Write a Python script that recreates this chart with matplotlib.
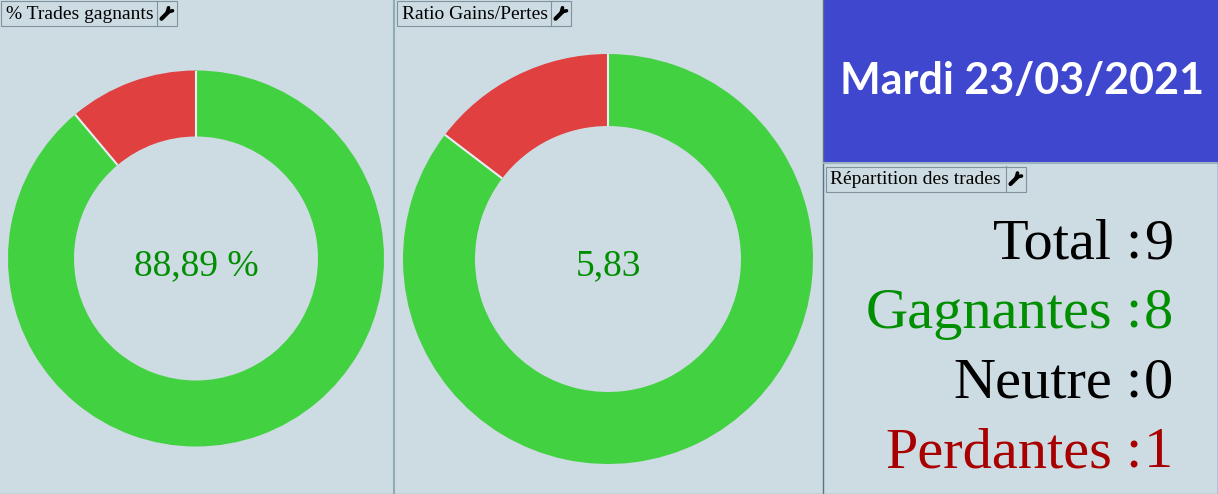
import matplotlib
matplotlib.use('Agg')
import matplotlib.pyplot as plt
import numpy as np
from matplotlib.patches import Rectangle

# data
win_values = [8, 1]
ratio_values = [5.83, 1]
pie_colors = ['#41D141', '#E04040']
win_text = '88,89 %'
ratio_text = '5,83'
date_text = 'Mardi 23/03/2021'
panel_titles = ['% Trades gagnants', 'Ratio Gains/Pertes', 'Répartition des trades']
row_labels = ['Total', 'Gagnantes', 'Neutre', 'Perdantes']
row_values = [9, 8, 0, 1]
row_colors = ['#000000', '#008F00', '#000000', '#A80000']

W, H = 1218, 494
BG = '#CDDBE2'
EDGE = '#7F939E'
SERIF = 'Liberation Serif'

fig = plt.figure(figsize=(W / 100, H / 100), dpi=100, facecolor=BG)

# background axes in pixel coordinates, y going down
bg = fig.add_axes([0, 0, 1, 1])
bg.set_xlim(0, W)
bg.set_ylim(H, 0)
bg.axis('off')

# panel separators and date banner
bg.add_patch(Rectangle((823.5, 0), 394.5, 162, color='#4047CF', lw=0))
bg.plot([394, 394], [0, H], color='#8FACB9', lw=1.5)
bg.plot([823, 823], [0, H], color='#5A7486', lw=1)
bg.plot([824, W], [163, 163], color='#9DB4C0', lw=1.5)
bg.plot([0, W], [493.5, 493.5], color='#9DB4C0', lw=1)
bg.plot([1217.5, 1217.5], [162, H], color='#4047CF', lw=1)
bg.text(1022, 81, date_text, color='white', fontsize=31, fontweight='bold',
        family='Lato', ha='center', va='center')


def title_box(x0, y0, x1, x2, y1, title):
    bg.add_patch(Rectangle((x0, y0), x2 - x0, y1 - y0, fill=False, ec=EDGE, lw=0.8))
    bg.plot([x1, x1], [y0, y1], color=EDGE, lw=0.8)
    bg.text(x0 + 5, (y0 + y1) / 2 + 0.5, title, family=SERIF, fontsize=14, color='black',
            ha='left', va='center')
    # wrench icon
    cx, cy = (x1 + x2) / 2, (y0 + y1) / 2
    bg.plot([cx - 5, cx + 2], [cy + 5, cy - 2], color='black', lw=3, solid_capstyle='round')
    bg.plot([cx + 1, cx + 6], [cy - 2, cy - 3], color='black', lw=2.6, solid_capstyle='round')
    bg.plot([cx + 1, cx + 2], [cy - 2, cy - 6], color='black', lw=2.6, solid_capstyle='round')


title_box(0.5, 1.5, 156.5, 176.5, 26, panel_titles[0])
title_box(396.5, 1.5, 550.5, 570.5, 26, panel_titles[1])
title_box(825.5, 166.5, 1005.5, 1025.5, 191.5, panel_titles[2])


def donut(cx, cy, r_out, r_in, values, label):
    ax = fig.add_axes([(cx - r_out) / W, 1 - (cy + r_out) / H, 2 * r_out / W, 2 * r_out / H])
    ax.pie(values, colors=pie_colors, startangle=90, counterclock=False, radius=1,
           wedgeprops={'width': 1 - r_in / r_out, 'linewidth': 0})
    # light separators between slices only, no outline round the ring
    edges = 90 - 360 * np.cumsum(values) / np.sum(values)
    for a in np.deg2rad(np.append(edges[:-1], 90)):
        ax.plot([r_in / r_out * np.cos(a), np.cos(a)], [r_in / r_out * np.sin(a), np.sin(a)],
                color='#E8EEF1', lw=1.5, solid_capstyle='butt')
    ax.set_xlim(-1, 1)
    ax.set_ylim(-1, 1)
    bg.text(cx, cy + 7, label, color='#008F00', family=SERIF, fontsize=27, ha='center', va='center')


donut(196, 258.5, 188, 122, win_values, win_text)
donut(608, 259, 205, 133, ratio_values, ratio_text)

# right hand counters
for i, (lab, val, col) in enumerate(zip(row_labels, row_values, row_colors)):
    y = 244 + i * 69.8
    bg.text(1112, y, lab, color=col, family=SERIF, fontsize=42, ha='right', va='center')
    bg.text(1133, y, ':', color=col, family=SERIF, fontsize=42, ha='center', va='center')
    bg.text(1173, y, str(val), color=col, family=SERIF, fontsize=42, ha='right', va='center')

fig.savefig('out.png', dpi=100, facecolor=BG)
